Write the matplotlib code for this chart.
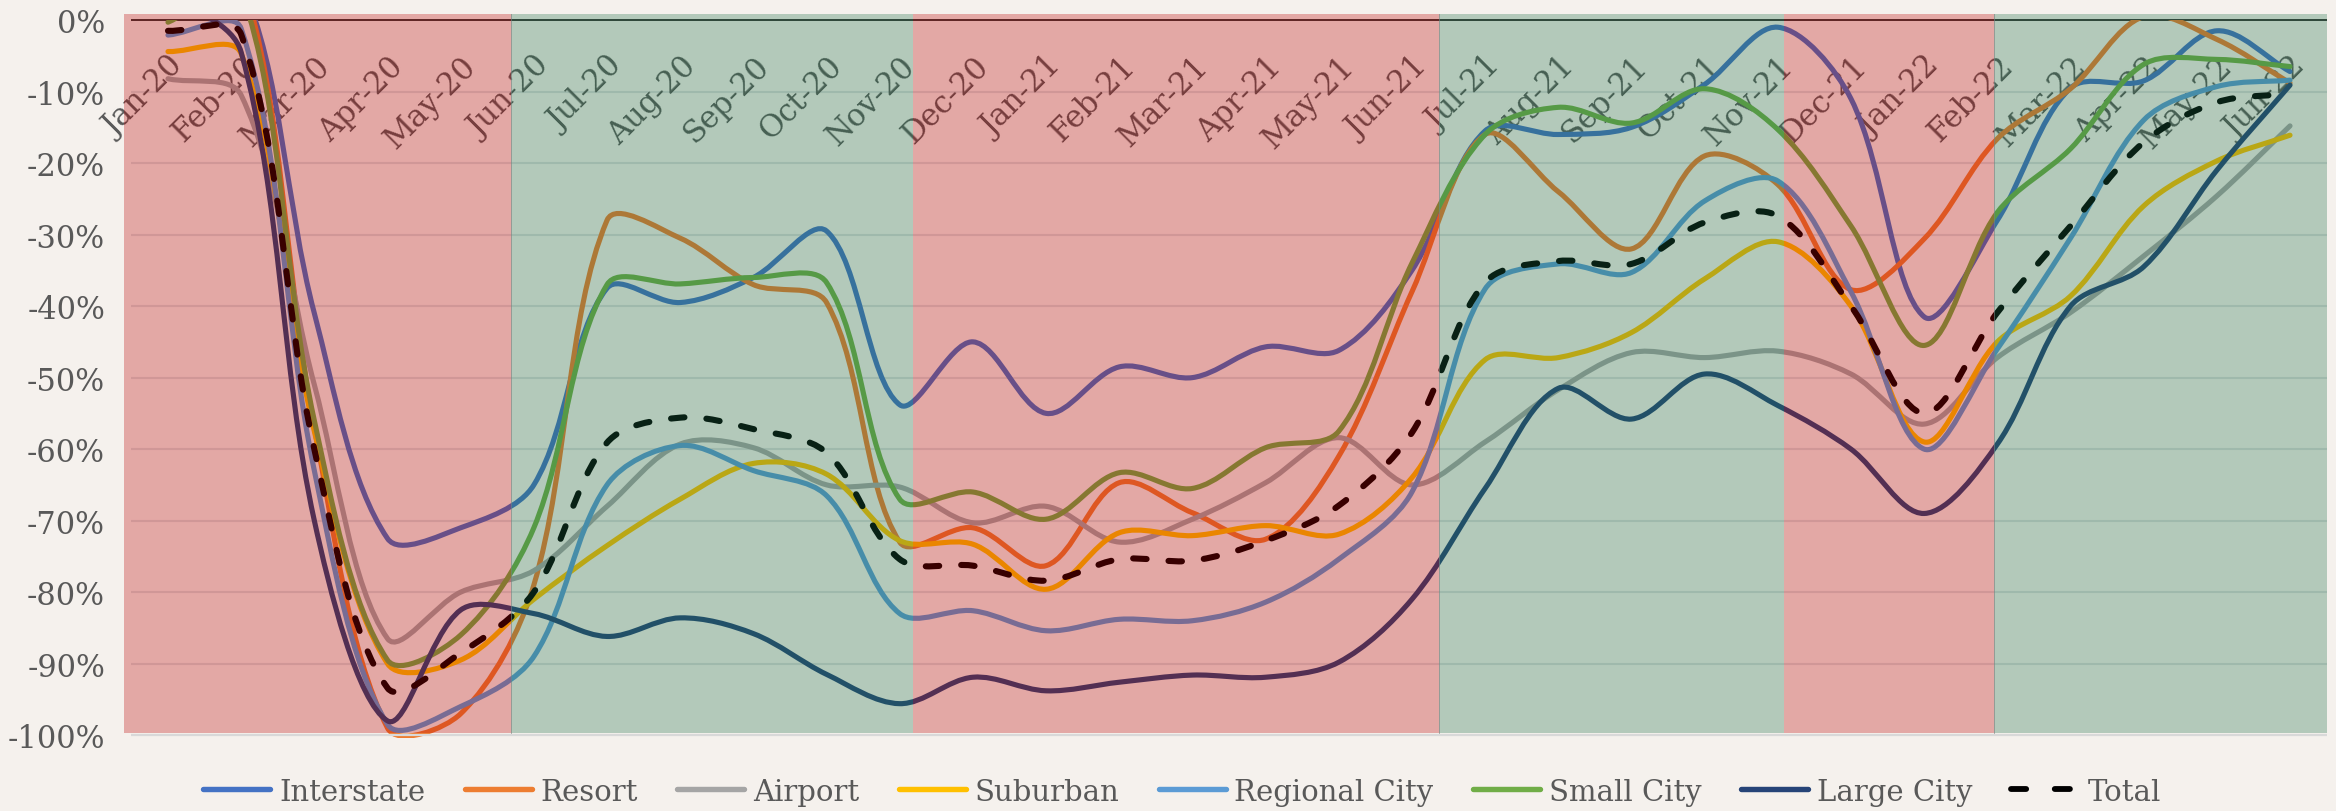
import numpy as np
import matplotlib
matplotlib.use("Agg")
import matplotlib.pyplot as plt
from matplotlib.path import Path
from matplotlib.patches import PathPatch, Rectangle
from matplotlib.lines import Line2D

plt.rcParams["font.family"] = "DejaVu Serif"

months = [
    "Jan-20", "Feb-20", "Mar-20", "Apr-20", "May-20", "Jun-20", "Jul-20", "Aug-20",
    "Sep-20", "Oct-20", "Nov-20", "Dec-20", "Jan-21", "Feb-21", "Mar-21", "Apr-21",
    "May-21", "Jun-21", "Jul-21", "Aug-21", "Sep-21", "Oct-21", "Nov-21", "Dec-21",
    "Jan-22", "Feb-22", "Mar-22", "Apr-22", "May-22", "Jun-22",
]

interstate = [2, 5, -41, -72.5, -71, -65, -37.5, -39.5, -36, -29.5, -53.8, -45, -55, -48.5, -50,
              -45.7, -46.2, -35, -15.5, -16, -15, -9, -1, -11, -41.5, -28, -9.5, -8.5, -1.5, -7.2]
resort = [3, 6, -57, -99, -97, -79, -28, -30.5, -37, -39.5, -73, -71, -76.3, -64.7, -68.9,
          -72.6, -61, -38, -16, -24, -32, -19, -23, -37.7, -30.6, -16.6, -9.6, 0.5, -2.7, -8.8]
airport = [-8.2, -10.5, -51, -86.5, -80, -77, -68, -59.3, -59.8, -65, -65.3, -70.3, -68, -73, -69.8,
           -64.7, -58.4, -65, -59, -51.7, -46.5, -47.2, -46.3, -49.5, -56.5, -47.2, -40.9, -33, -24.6, -14.8]
suburban = [-4.4, -4.7, -57.5, -90, -89.5, -81, -73.5, -67, -62, -63.5, -72.8, -73.3, -79.6, -71.7, -72.1,
            -70.7, -71.9, -64, -47.5, -47.2, -43.7, -36.2, -31, -40, -59, -45, -38.6, -26, -19.7, -16.1]
regional_city = [-2.1, -1.2, -63, -98.5, -96, -89, -65, -59.5, -63, -66.5, -83, -82.6, -85.4, -83.8, -84,
                 -81.4, -75.4, -66, -37.6, -34.1, -35.3, -25.3, -22.5, -38, -60, -46, -30.5, -14, -9.3, -8.4]
small_city = [-0.3, 4, -56, -89.5, -86, -71, -37, -36.9, -36, -36.7, -67, -66, -69.8, -63.3, -65.5,
              -59.8, -57.5, -34, -16, -12.2, -14.4, -9.6, -15.3, -28.8, -45.5, -26.9, -18, -6.2, -5.5, -6.5]
large_city = [4, -4.5, -70, -98, -82.5, -83, -86.2, -83.6, -85.8, -91.5, -95.6, -91.9, -93.8, -92.6, -91.6,
              -91.9, -89.8, -81, -65.5, -51.5, -55.8, -49.5, -53.9, -60, -69, -59.3, -40, -34.5, -21, -9.1]
total = [-1.5, -2, -60, -93.4, -88.5, -80, -59.1, -55.6, -57.2, -60.5, -75.4, -76.3, -78.4, -75.4, -75.6,
         -72.8, -67.9, -57.7, -36.7, -33.7, -34.1, -28.3, -27.4, -40, -55, -40.9, -28.8, -17.1, -11.5, -10.3]

series_names = ["Interstate", "Resort", "Airport", "Suburban", "Regional City", "Small City", "Large City", "Total"]
series_values = [interstate, resort, airport, suburban, regional_city, small_city, large_city, total]
series_colors = ["#4472C4", "#ED7D31", "#A5A5A5", "#FFC000", "#5B9BD5", "#70AD47", "#264478", "#000000"]

# shaded periods, edges in month-index units
period_edges = [-0.6, 4.69, 10.18, 17.37, 22.09, 24.95, 29.51]
period_kinds = ["red", "green", "red", "green", "red", "green"]
period_colors = {"red": "#BC0000", "green": "#1C6F46"}

BG = "#F5F1ED"
TXT = "#595959"
YMIN, YMAX = -100.4, 0.85


def excel_smooth(ax, xs, ys):
    # bezier through the points, control arms scaled by segment length (Excel style)
    pts = ax.transData.transform(np.column_stack([xs, ys]))
    n = len(pts)
    verts = [pts[0]]
    codes = [Path.MOVETO]
    for k in range(n - 1):
        p0 = pts[max(k - 1, 0)]
        p1, p2 = pts[k], pts[k + 1]
        p3 = pts[min(k + 2, n - 1)]
        d01 = np.hypot(*(p1 - p0))
        d12 = np.hypot(*(p2 - p1))
        d23 = np.hypot(*(p3 - p2))
        f1 = d12 / (d01 + d12) if d01 + d12 else 0.5
        f2 = d12 / (d12 + d23) if d12 + d23 else 0.5
        verts += [p1 + (p2 - p0) * f1 / 3, p2 - (p3 - p1) * f2 / 3, p2]
        codes += [Path.CURVE4] * 3
    verts = ax.transData.inverted().transform(np.array(verts))
    return Path(verts, codes)


fig = plt.figure(figsize=(23.36, 8.12), dpi=100, facecolor=BG)
ax = fig.add_axes([131.4 / 2336, 73 / 812, 2195.2 / 2336, 724 / 812])
ax.set_facecolor(BG)
ax.set_xlim(-0.5, len(months) - 0.5)
ax.set_ylim(YMIN, YMAX)
for s in ax.spines.values():
    s.set_visible(False)

ax.set_xticks([])
yt = list(range(-100, 1, 10))
ax.set_yticks(yt)
ax.set_yticklabels([f"{v}%" for v in yt])
ax.tick_params(axis="y", length=0, pad=19, labelsize=22, labelcolor=TXT)

for v in range(-90, 0, 10):
    ax.axhline(v, color="#D9D9D9", lw=1.5, zorder=1)
ax.axhline(0, color="black", lw=1.1, zorder=1.2)
ax.axhline(-100, color="#D9D9D9", lw=1.6, zorder=6)

for i, lab in enumerate(months):
    ax.text(i, -4.2, lab, rotation=45, rotation_mode="anchor", ha="right", va="top",
            fontsize=22, color=TXT, zorder=1.5, clip_on=False)

clip = Rectangle((-0.5, YMIN), len(months), -YMIN, transform=ax.transData)
x = np.arange(len(months))
for k, (name, vals, col) in enumerate(zip(series_names, series_values, series_colors)):
    is_total = name == "Total"
    patch = PathPatch(excel_smooth(ax, x, vals), facecolor="none", edgecolor=col,
                      lw=4.4 if is_total else 3.7,
                      linestyle=(0, (2.2, 3.6)) if is_total else "-",
                      capstyle="round", joinstyle="round", zorder=2 + k * 0.1)
    ax.add_patch(patch)
    patch.set_clip_path(clip)

for a, b, kind in zip(period_edges[:-1], period_edges[1:], period_kinds):
    ax.add_patch(Rectangle((a, -99.75), b - a, 99.75 + YMAX, facecolor=period_colors[kind],
                           edgecolor="none", alpha=0.3, zorder=4, clip_on=False))
    if kind == "red" and b < period_edges[-1]:
        ax.plot([b, b], [-99.75, YMAX], color="#7d7d7d", lw=0.7, alpha=0.6, zorder=4.5, clip_on=False)

handles = []
for name, col in zip(series_names, series_colors):
    if name == "Total":
        h = Line2D([], [], color=col, lw=4.2, linestyle=(0, (2.6, 4.9)), dash_capstyle="round")
    else:
        h = Line2D([], [], color=col, lw=3.9, solid_capstyle="round")
    handles.append(h)
fig.legend(handles, series_names, loc="center", bbox_to_anchor=(0.506, 0.024), ncol=8,
           frameon=False, fontsize=21, labelcolor=TXT, handlelength=2.3,
           handletextpad=0.3, columnspacing=1.35)

fig.savefig("out.png", dpi=100, facecolor=BG)
